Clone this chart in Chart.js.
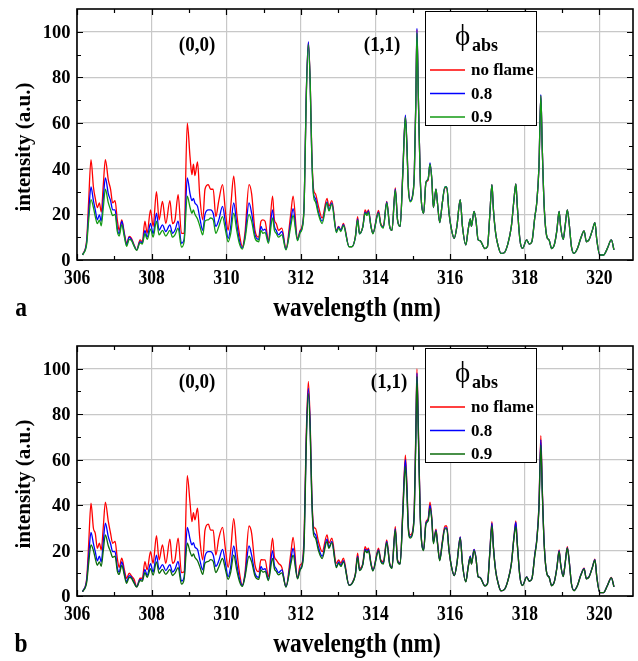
<!DOCTYPE html>
<html>
<head>
<meta charset="utf-8">
<script src="https://cdn.jsdelivr.net/npm/chart.js@4.4.0/dist/chart.umd.min.js"></script>
<style>
  html, body { margin: 0; padding: 0; background: #fff; }
  .panel { position: absolute; left: 0; width: 638px; }
</style>
</head>
<body>
<div class="panel" style="top:0px;height:330px"><canvas id="chartA" width="638" height="330"></canvas></div>
<div class="panel" style="top:330px;height:331px"><canvas id="chartB" width="638" height="331"></canvas></div>
<script>
// OH emission spectra, intensity (a.u.) vs wavelength (nm)
var wavelength = [
  306.15,306.26,306.31,306.375,306.44,306.49,306.545,306.6,306.65,306.705,
  306.76,306.84,306.9,306.955,307.02,307.08,307.13,307.2,307.27,307.33,
  307.4,307.46,307.53,307.6,307.69,307.75,307.82,307.88,307.97,308.04,
  308.13,308.2,308.29,308.38,308.49,308.56,308.625,308.71,308.8,308.87,
  308.955,309.03,309.08,309.12,309.16,309.23,309.29,309.37,309.43,309.52,
  309.58,309.65,309.72,309.8,309.9,309.98,310.05,310.12,310.2,310.28,
  310.35,310.43,310.5,310.61,310.68,310.77,310.87,310.93,310.98,311.04,
  311.13,311.24,311.29,311.34,311.4,311.49,311.6,311.73,311.79,311.91,
  311.98,312.03,312.09,312.14,312.2,312.25,312.29,312.34,312.39,312.47,
  312.57,312.7,312.75,312.83,312.95,313.01,313.07,313.14,313.29,313.37,
  313.46,313.52,313.57,313.66,313.72,313.77,313.81,313.88,313.93,314.08,
  314.14,314.21,314.3,314.38,314.44,314.53,314.59,314.66,314.73,314.8,
  314.84,314.88,314.93,315.0,315.04,315.08,315.11,315.15,315.2,315.29,
  315.35,315.41,315.46,315.51,315.55,315.62,315.66,315.72,315.79,315.86,
  315.91,315.97,316.04,316.11,316.18,316.27,316.33,316.42,316.48,316.54,
  316.57,316.64,316.69,316.75,316.8,316.93,317.0,317.06,317.12,317.16,
  317.22,317.29,317.36,317.45,317.55,317.64,317.71,317.76,317.8,317.87,
  317.94,318.05,318.12,318.19,318.27,318.32,318.38,318.43,318.47,318.52,
  318.59,318.65,318.72,318.79,318.86,318.92,318.96,319.03,319.08,319.14,
  319.19,319.25,319.32,319.41,319.5,319.59,319.65,319.72,319.81,319.88,
  319.93,320.01,320.11,320.21,320.32,320.39
];

// panel a
var aNoFlame = [
  2.2,9,25,44,32,27,23,25,21,33,
  44,35,31,25,26,17.6,13,17.6,11.7,7.3,
  10.3,9.5,6.6,4.4,8.8,8,17,11.7,22,14.7,
  30,17.6,25.7,16,26,16,17.5,28.6,11.7,11.7,
  60,45,37.4,42,37,43,28,17.6,31,33,
  31,31,19,26,33,21,13,23.5,36.7,20.5,
  11.7,5.9,11.7,33,29,13,10,17,17.6,17,
  8.8,28,17.6,16,13,14,5,20.5,28,9.5,
  13,14.7,26,70,95.4,78,48.5,31,29,23.5,
  18.4,27,23.5,26,13,14.7,13,16,5.9,5.9,
  10.3,19,11.7,14.7,22,20.5,22,14.7,11.7,21.7,
  16,14.7,25.7,14.7,13,31.6,17.6,14.7,38,63,
  51,32,26,29,38,70,101,70,35,20.5,
  33.8,35,42,35,23,31,25,16.4,25,31.6,
  31.6,20.5,13,9.5,14.7,26.4,14.7,6.6,13,18,
  14.7,21.3,17.6,8.8,8.5,5,5.9,19,33,22,
  11.7,5.9,2.9,3.2,7.3,14.7,26.4,33.3,23.5,8.8,
  5.1,8.8,7,8,19,25,41,72,48,23.5,
  10.3,8.8,5,6.6,13,21.3,14.7,9,14.7,22,
  16,5.9,2.9,5,9.5,12.8,8,8.8,13,16.4,
  8.8,2.2,2.2,5,8.8,4.4
];
var a08 = [
  2.2,8,20,32,26,22,17.6,19.8,17,27,
  36,29,26,22,22,14,11.5,17,11,6.6,
  10,9,6.3,4.4,8,7.5,13,10,16,11.5,
  20.5,13,15.4,12.5,15.4,11.7,13,17,7.3,9,
  36,29,26,27,25,23.5,18.5,13,20,22,
  22,20.5,14.7,17.6,23.5,16,9.5,14.7,25,16,
  8.8,5.2,10,25,20.5,11,9,14.7,13,13.5,
  8,22,14.7,13,11,12.5,4.7,17,22.5,8.8,
  12.5,14,26,70,95.7,77,47,29,27,21,
  17,25.5,22,25,12.5,14.5,13,15.5,5.9,5.9,
  10,18,11.5,14.5,21,20,21.5,14.5,11.7,21,
  15.5,14.5,25.5,14.5,13,31,17.5,14.7,38,63.5,
  51,32,26,29,38,70,101.5,70,35,20.5,
  34,35.5,42.5,35,23,31,25,16.4,25,32,
  32,20.5,13,9.5,14.7,26.4,14.7,6.6,13,18,
  14.7,21.3,17.6,8.8,8.5,5,5.9,19,33,22,
  11.7,5.9,2.9,3.2,7.3,14.7,26.4,33.3,23.5,8.8,
  5.1,8.8,7,8,19,25,41,72.5,48,23.5,
  10.3,8.8,5,6.6,13,21.3,14.7,9,14.7,22,
  16,5.9,2.9,5,9.5,12.8,8,8.8,13,16.4,
  8.8,2.2,2.2,5,8.8,4.4
];
var a09 = [
  2.2,7,17,26.5,23,19,15.9,17.5,15,23,
  31,25,22,19.5,20,12.5,10.5,15.5,10,6,
  9,8.5,6,4.2,7.5,7,11.5,9,13.5,10,
  17,11,13,10.5,13,10,11,14,5.6,8,
  28,23,20.5,22,20,18,15,11,17,17.6,
  18.4,17.6,11.7,14.7,19,13,8,11.7,20.5,13,
  7.3,4.8,9,20,17,9.5,8,13,11.7,12,
  7.3,18.4,13,11.7,10,11,4.4,15,19.5,8.5,
  12,13.5,25,68,94.5,77,47,28,25.5,20,
  16,25,21.5,24.5,12,14,12.5,15,5.8,5.8,
  10,17.5,11.5,14.5,20.5,19.5,21,14.5,11.5,20.5,
  15.5,14,25,14.5,13,30.5,17.5,14.7,37,62.5,
  50,31,25.5,28.5,37.5,69,99.5,69,35,20.5,
  34,35.5,42,35,23,31,25,16.4,25,32,
  32,20.5,13,9.5,14.7,26.4,14.7,6.6,13,18,
  14.7,21.3,17.6,8.8,8.5,5,5.9,19,33,22,
  11.7,5.9,2.9,3.2,7.3,14.7,26.4,33.3,23.5,8.8,
  5.1,8.8,7,8,19,25,41,72,48,23.5,
  10.3,8.8,5,6.6,13,21.3,14.7,9,14.7,22,
  16,5.9,2.9,5,9.5,12.8,8,8.8,13,16.4,
  8.8,2.2,2.2,5,8.8,4.4
];

// panel b
var bNoFlame = [
  1.9,7.8,22,40.8,29.8,27.6,21,23.2,20.3,30.5,
  41.3,32.7,27.6,23.2,24,16.6,12.6,16.6,11.5,7.8,
  10,8.8,7.3,4.1,7.8,7.8,15.1,11.5,19.5,14.4,
  26.6,15.9,22.5,14.4,25,14.4,15.9,25.4,10.3,10.7,
  53,40.8,32.7,36.7,33.5,38.6,25.4,15.9,29,31.6,
  29,29,18,25.4,30.2,20.3,12.6,20.3,34,20.3,
  10.7,4.8,10,30.8,27.6,13.7,10.7,16,15.9,15.9,
  8.5,25.4,17.3,15.9,14.4,12.6,4.1,18.8,25.8,7.8,
  13.7,14.4,29,68.7,94.4,76,46.7,30.5,29.8,24,
  19.5,26.9,23.2,25.4,14.4,15.9,14.4,16.6,4.8,5.6,
  9.8,18.8,12.2,14.4,21.7,20.3,21,14.4,11.5,21,
  15.9,15.1,24.7,14.4,12.6,30.5,15.9,14.4,37.5,62,
  49.5,30.5,26.9,29,39,73,99.9,73,35,20.5,
  32.5,34,41.3,34,24,29.4,24,16,24,30.8,
  30.8,20,12.6,9,14.2,26,14.2,6.3,12.5,17.5,
  14.2,20.5,17,8.5,8.2,4.5,5.5,18.5,32.7,21.5,
  11.2,5.4,2.3,2.8,7,14.2,26,33,23,8.5,
  4.7,8.4,6.6,7.6,18.5,24.5,40,70.5,47,23,
  10,8.4,4.6,6.2,12.5,20.3,14.2,8.6,14.2,21.7,
  15.5,5.5,2.4,4.6,9.2,12.2,7.6,8.4,12.6,16.2,
  8.4,1.5,1.5,4.5,8.2,4
];
var b08 = [
  1.9,7,17,28,23,19.5,15.5,17.5,15,24,
  32,26,23,19.5,19.5,12.5,10.5,15,10,6.3,
  9,8.3,6,4.1,7.3,7,11.7,9,14.2,10.5,
  18,11.7,13.8,11.2,13.8,10.5,11.7,15.2,6.6,8.2,
  30.2,25,22.5,23.5,21.5,20.5,16,11.5,17.5,19.5,
  19.5,18,13,15.5,20.5,14.2,8.5,13,22,14.2,
  8,4.6,9,22,18,10,8.2,13,11.7,12,
  7.3,20,13.5,12,10.3,11.5,4.1,15.8,21,7.8,
  12,13.5,26,66,91.5,74,45,28.5,27,21.5,
  17.5,25,21.5,24,13,15,13.5,15.5,4.8,5.5,
  9.5,17.5,11.5,14,20.5,19.5,20.5,14,11.2,20.3,
  15.5,14.5,24,14,12.4,29.5,15.5,14.2,36.5,60,
  48,30,26,28.5,38,71,98,71,34.5,20.3,
  32,33.5,40,33.5,23.5,29,23.5,15.8,23.5,30,
  30,20,12.6,9,14.2,26,14.2,6.3,12.5,17.5,
  14.2,20.5,17,8.5,8.2,4.5,5.5,18.5,32,21.5,
  11.2,5.4,2.3,2.8,7,14.2,26,32.5,23,8.5,
  4.7,8.4,6.6,7.6,18.5,24.5,39.5,68.7,46,23,
  10,8.4,4.6,6.2,12.5,20,14.2,8.6,14.2,21.3,
  15.5,5.5,2.4,4.6,9.2,12,7.6,8.4,12.6,16,
  8.4,1.5,1.5,4.5,8,4
];
var b09 = [
  1.9,6,14,22.5,20,16.5,13.5,15,13,20,
  26.9,22,19.5,17,17.5,11,9.5,13.5,9,5.6,
  8.2,7.8,5.6,3.9,6.8,6.5,10.3,8.2,12,9.2,
  15,10,11.7,9.5,11.7,9,10,12.5,5.2,7.3,
  23.2,19.5,17.5,18.5,17,15.5,13,9.5,14.5,15.2,
  16,15.2,10.3,12.8,16.5,11.5,7.3,10.5,18,11.5,
  6.6,4.2,8.2,17.5,15,8.8,7.3,11.5,10.5,10.8,
  6.8,16.5,12,10.8,9.3,10.2,3.9,14,18,7.5,
  11.5,13,24,64,89,72,44,27,25.5,20,
  16.5,24,21,23.5,12.5,14.5,13,15,4.7,5.4,
  9.3,17,11.2,13.8,20,19,20,13.8,11,19.8,
  15.2,14,23.5,13.8,12.2,29,15.2,14,35.5,57,
  46,29,25.5,28,37,69,96.6,69,34,20,
  31.5,33,38.5,33,23,28.5,23,15.5,23,29.5,
  29.5,19.8,12.5,9,14,25.5,14,6.2,12.3,17,
  14,20,16.8,8.4,8.1,4.4,5.4,18,31,21,
  11,5.3,2.3,2.8,6.9,14,25.5,30.5,22.5,8.4,
  4.6,8.3,6.5,7.5,18,24,38.5,66.5,45,22.5,
  9.9,8.3,4.5,6.1,12.3,19.5,14,8.5,14,21,
  15.2,5.4,2.3,4.5,9,11.8,7.5,8.3,12.4,15.8,
  8.3,1.5,1.5,4.4,8,4
];

var seriesNames = ['no flame', '0.8', '0.9'];
var xTicks = [306, 308, 310, 312, 314, 316, 318, 320];
var xMinorTicks = [307, 309, 311, 313, 315, 317, 319];
var yTicks = [0, 20, 40, 60, 80, 100];
var yMinorTicks = [10, 30, 50, 70, 90];

var serif = '"Liberation Serif", "Times New Roman", serif';

// the original lettering is a tall, narrow Times bold
function tallText(ctx, text, x, y, sy) {
  ctx.save();
  ctx.translate(x, y);
  ctx.scale(1, sy);
  ctx.fillText(text, 0, 0);
  ctx.restore();
}

function decorPlugin(p) {
  return {
    id: 'decor',
    afterDatasetsDraw: function (chart) {
      var ctx = chart.ctx, ca = chart.chartArea;
      var xs = chart.scales.x, ys = chart.scales.y;
      ctx.save();
      ctx.strokeStyle = '#000';
      ctx.lineWidth = 1.2;
      ctx.beginPath();
      xTicks.concat(xMinorTicks).forEach(function (v) {
        var px = Math.round(xs.getPixelForValue(v)) + 0.5;
        var len = xTicks.indexOf(v) >= 0 ? 6 : 4;
        ctx.moveTo(px, ca.bottom); ctx.lineTo(px, ca.bottom - len);
        ctx.moveTo(px, ca.top); ctx.lineTo(px, ca.top + len);
      });
      yTicks.concat(yMinorTicks).forEach(function (v) {
        var py = Math.round(ys.getPixelForValue(v)) + 0.5;
        var len = yTicks.indexOf(v) >= 0 ? 6 : 4;
        ctx.moveTo(ca.left, py); ctx.lineTo(ca.left + len, py);
        ctx.moveTo(ca.right, py); ctx.lineTo(ca.right - len, py);
      });
      ctx.stroke();
      ctx.lineWidth = 1.6;
      ctx.strokeRect(ca.left, ca.top, ca.right - ca.left, ca.bottom - ca.top);

      // tick labels
      ctx.fillStyle = '#000';
      ctx.textBaseline = 'alphabetic';
      ctx.textAlign = 'center';
      ctx.font = 'bold 17.5px ' + serif;
      xTicks.forEach(function (v) {
        tallText(ctx, String(v), xs.getPixelForValue(v), ca.bottom + 23.5, 1.15);
      });
      ctx.textAlign = 'right';
      ctx.font = 'bold 18.5px ' + serif;
      yTicks.forEach(function (v) {
        ctx.fillText(String(v), ca.left - 6.5, ys.getPixelForValue(v) + 6);
      });

      // legend box
      var lx = 425, ly = ca.top + 2, lw = 111, lh = 114;
      ctx.fillStyle = '#fff';
      ctx.fillRect(lx, ly, lw, lh);
      ctx.strokeStyle = '#000';
      ctx.lineWidth = 1;
      ctx.strokeRect(lx + 0.5, ly + 0.5, lw, lh);
      ctx.fillStyle = '#000';
      ctx.textAlign = 'left';
      ctx.font = '29px "Liberation Serif", "DejaVu Serif", serif';
      ctx.fillText('\u03D5', 455, ly + 34);
      ctx.font = 'bold 18px ' + serif;
      ctx.fillText('abs', 472, ly + 40);
      ctx.textBaseline = 'middle';
      ctx.font = 'bold 17px ' + serif;
      var rows = [ly + 59, ly + 82.5, ly + 106];
      for (var i = 0; i < 3; i++) {
        ctx.strokeStyle = p.colors[i];
        ctx.lineWidth = 1.5;
        ctx.beginPath();
        ctx.moveTo(430, rows[i]); ctx.lineTo(465, rows[i]);
        ctx.stroke();
        ctx.fillText(seriesNames[i], 471, rows[i] + 1);
      }

      // band labels
      ctx.textAlign = 'center';
      ctx.font = 'bold 19px ' + serif;
      p.bands.forEach(function (b) {
        tallText(ctx, b.text, b.cx, ca.top + 37, 1.1);
      });

      // axis titles and panel letter
      ctx.textBaseline = 'alphabetic';
      ctx.font = 'bold 23.5px ' + serif;
      tallText(ctx, 'wavelength (nm)', 357, ca.bottom + 56, 1.13);
      tallText(ctx, p.letter, 21, ca.bottom + 56, 1.13);
      ctx.save();
      ctx.textBaseline = 'middle';
      ctx.translate(25, ca.top + 138);
      ctx.rotate(-Math.PI / 2);
      ctx.font = 'bold 21px ' + serif;
      ctx.fillText('intensity (a.u.)', 0, 0);
      ctx.restore();
      ctx.restore();
    }
  };
}

function makePanel(p) {
  var datasets = p.series.map(function (vals, i) {
    return {
      label: seriesNames[i],
      data: wavelength.map(function (w, k) { return { x: w, y: vals[k] }; }),
      borderColor: p.colors[i],
      borderWidth: 1.3,
      pointRadius: 0,
      fill: false,
      cubicInterpolationMode: 'monotone',
      order: 2 - i
    };
  });
  return new Chart(document.getElementById(p.id), {
    type: 'line',
    data: { datasets: datasets },
    options: {
      responsive: false,
      animation: false,
      layout: { padding: { top: p.padTop, right: 5, left: 0, bottom: 0 } },
      plugins: { legend: { display: false }, tooltip: { enabled: false } },
      scales: {
        x: {
          type: 'linear', min: 306, max: 320.9,
          afterBuildTicks: function (s) { s.ticks = xTicks.map(function (v) { return { value: v }; }); },
          afterFit: function (s) { s.height = p.xAxisH; s.paddingLeft = 0; s.paddingRight = 0; },
          ticks: { display: false },
          grid: { color: '#c8c8c8', lineWidth: 1.2, drawTicks: false },
          border: { display: false }
        },
        y: {
          type: 'linear', min: 0, max: 110,
          afterBuildTicks: function (s) { s.ticks = yTicks.map(function (v) { return { value: v }; }); },
          afterFit: function (s) { s.width = 77; s.paddingTop = 0; s.paddingBottom = 0; },
          ticks: { display: false },
          grid: { color: '#c8c8c8', lineWidth: 1.2, drawTicks: false },
          border: { display: false }
        }
      }
    },
    plugins: [decorPlugin(p)]
  });
}

makePanel({
  id: 'chartA', letter: 'a', padTop: 9, xAxisH: 70,
  series: [aNoFlame, a08, a09],
  colors: ['#ff0000', '#0000ff', '#139a13'],
  bands: [{ text: '(0,0)', cx: 197 }, { text: '(1,1)', cx: 382 }]
});
makePanel({
  id: 'chartB', letter: 'b', padTop: 16, xAxisH: 65,
  series: [bNoFlame, b08, b09],
  colors: ['#ff0000', '#0000ff', '#0b6b0b'],
  bands: [{ text: '(0,0)', cx: 197 }, { text: '(1,1)', cx: 389 }]
});
</script>
</body>
</html>
